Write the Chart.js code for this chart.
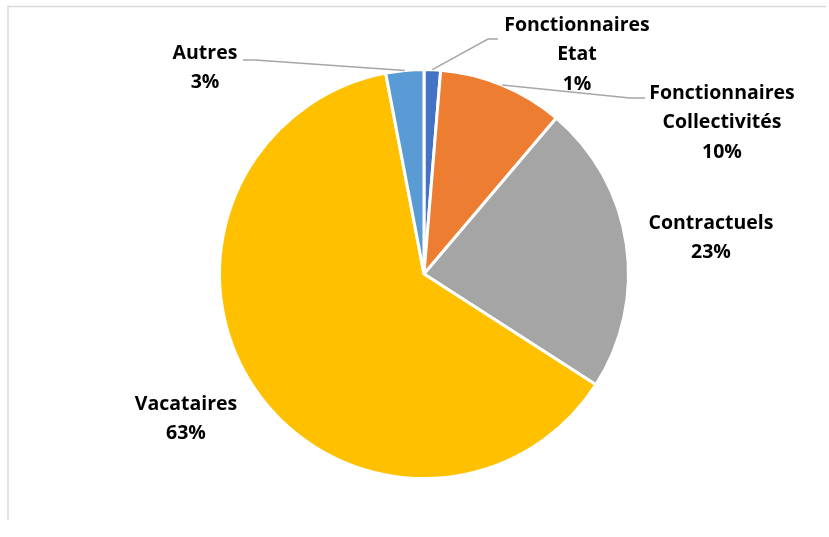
<!DOCTYPE html>
<html><head><meta charset="utf-8">
<script src="https://cdn.jsdelivr.net/npm/chart.js@4/dist/chart.umd.min.js"></script>
<style>
html,body{margin:0;padding:0;background:#fff;}
#wrap{position:relative;width:829px;height:537px;}
canvas{display:block;}
</style></head><body>
<div id="wrap"><canvas id="c" width="829" height="537"></canvas></div>
<script>
const categories = ["Fonctionnaires Etat", "Fonctionnaires Collectivités", "Contractuels", "Vacataires", "Autres"];
const labelLines = [["Fonctionnaires","Etat"], ["Fonctionnaires","Collectivités"], ["Contractuels"], ["Vacataires"], ["Autres"]];
const values = [1.3, 9.9, 22.9, 62.9, 3.0];
const percentLabels = ["1%", "10%", "23%", "63%", "3%"];
const colors = ["#4472C4", "#ED7D31", "#A5A5A5", "#FFC000", "#5B9BD5"];

// label placement (centre x, first-line y) and leader elbow points
const labelPos = [
  {x:577, y:25, elbow:[488,39], end:[498,39]},
  {x:722, y:93, elbow:[630,98], end:[645,98]},
  {x:711, y:223},
  {x:186, y:404},
  {x:205, y:53, elbow:[255,60], end:[243,60]}
];

const labelPlugin = {
  id:'labels',
  beforeDraw(chart){
    const ctx = chart.ctx;
    ctx.save();
    ctx.strokeStyle = '#D9D9D9';
    ctx.lineWidth = 1.5;
    ctx.beginPath();
    ctx.moveTo(8, 520); ctx.lineTo(8, 6.5); ctx.lineTo(826, 6.5);
    ctx.stroke();
    ctx.restore();
  },
  afterDraw(chart){
    const ctx = chart.ctx;
    const meta = chart.getDatasetMeta(0);
    ctx.save();
    meta.data.forEach((arc, i) => {
      const p = labelPos[i];
      if (p.elbow) {
        const mid = (arc.startAngle + arc.endAngle) / 2;
        const sx = arc.x + Math.cos(mid) * arc.outerRadius;
        const sy = arc.y + Math.sin(mid) * arc.outerRadius;
        ctx.strokeStyle = '#A6A6A6';
        ctx.lineWidth = 1.5;
        ctx.beginPath();
        ctx.moveTo(sx, sy);
        ctx.lineTo(p.elbow[0], p.elbow[1]);
        ctx.lineTo(p.end[0], p.end[1]);
        ctx.stroke();
      }
      ctx.fillStyle = '#000';
      ctx.font = 'bold 19.5px "Open Sans"';
      ctx.textAlign = 'center';
      ctx.textBaseline = 'middle';
      const lines = labelLines[i].concat([percentLabels[i]]);
      lines.forEach((t, k) => ctx.fillText(t, p.x, p.y + k * 29.5));
    });
    ctx.restore();
  }
};

new Chart(document.getElementById('c'), {
  type: 'pie',
  data: {
    labels: categories,
    datasets: [{
      data: values,
      backgroundColor: colors,
      borderColor: '#FFFFFF',
      borderWidth: 3
    }]
  },
  options: {
    responsive: false,
    animation: false,
    layout: {padding: {top: 68, bottom: 57, left: 218, right: 199}},
    plugins: {legend: {display: false}, tooltip: {enabled: false}}
  },
  plugins: [labelPlugin]
});
</script>
</body></html>
